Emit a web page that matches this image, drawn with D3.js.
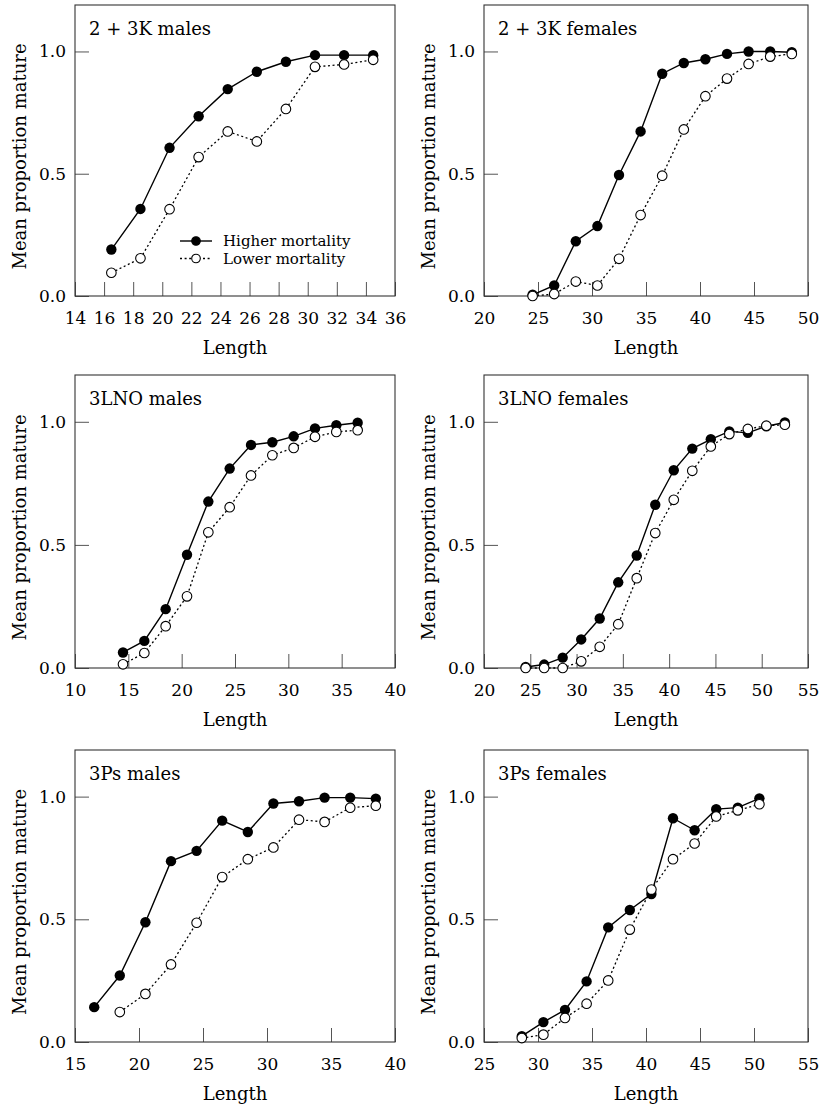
<!DOCTYPE html>
<meta charset="utf-8">
<script src="https://d3js.org/d3.v7.min.js"></script>
<style>
  body { margin: 0; background: #fff; }
  svg { font-family: "DejaVu Serif", serif; }
  .tick text { font-size: 17px; fill: #000; font-family: "DejaVu Serif", serif; }
  .tick line { stroke: #555; }
  .ptitle { font-size: 18px; }
  .atitle { font-size: 18px; }
  .legend { font-size: 15px; }
</style>
<body>
<div id="chart"></div>
<script>

// 2 + 3K males
var k23MalesLen    = [16.5, 18.5, 20.5, 22.5, 24.5, 26.5, 28.5, 30.5, 32.5, 34.5];
var k23MalesHigher = [0.19, 0.356, 0.606, 0.735, 0.846, 0.917, 0.958, 0.985, 0.985, 0.985];
var k23MalesLower  = [0.095, 0.154, 0.355, 0.568, 0.673, 0.632, 0.765, 0.937, 0.947, 0.966];
var k23MalesTicks  = [14, 16, 18, 20, 22, 24, 26, 28, 30, 32, 34, 36];

// 2 + 3K females
var k23FemalesLen    = [24.5, 26.5, 28.5, 30.5, 32.5, 34.5, 36.5, 38.5, 40.5, 42.5, 44.5, 46.5, 48.5];
var k23FemalesHigher = [0.005, 0.043, 0.224, 0.286, 0.495, 0.673, 0.909, 0.953, 0.968, 0.99, 1.0, 1.0, 0.997];
var k23FemalesLower  = [0.0, 0.008, 0.059, 0.043, 0.152, 0.331, 0.492, 0.681, 0.817, 0.889, 0.949, 0.979, 0.99];
var k23FemalesTicks  = [20, 25, 30, 35, 40, 45, 50];

// 3LNO males
var lnoMalesLen    = [14.5, 16.5, 18.5, 20.5, 22.5, 24.5, 26.5, 28.5, 30.5, 32.5, 34.5, 36.5];
var lnoMalesHigher = [0.063, 0.11, 0.239, 0.46, 0.676, 0.81, 0.906, 0.917, 0.941, 0.973, 0.986, 0.996];
var lnoMalesLower  = [0.015, 0.061, 0.17, 0.291, 0.551, 0.653, 0.782, 0.864, 0.894, 0.939, 0.959, 0.966];
var lnoMalesTicks  = [10, 15, 20, 25, 30, 35, 40];

// 3LNO females
var lnoFemalesLen    = [24.5, 26.5, 28.5, 30.5, 32.5, 34.5, 36.5, 38.5, 40.5, 42.5, 44.5, 46.5, 48.5, 50.5, 52.5];
var lnoFemalesHigher = [0.004, 0.014, 0.042, 0.116, 0.201, 0.348, 0.457, 0.663, 0.803, 0.891, 0.929, 0.961, 0.955, 0.982, 0.997];
var lnoFemalesLower  = [0.0, 0.0, 0.0, 0.027, 0.086, 0.178, 0.365, 0.548, 0.683, 0.801, 0.9, 0.95, 0.971, 0.984, 0.988];
var lnoFemalesTicks  = [20, 25, 30, 35, 40, 45, 50, 55];

// 3Ps males
var psMalesLen    = [16.5, 18.5, 20.5, 22.5, 24.5, 26.5, 28.5, 30.5, 32.5, 34.5, 36.5, 38.5];
var psMalesHigher = [0.142, 0.271, 0.488, 0.737, 0.779, 0.902, 0.856, 0.972, 0.981, 0.996, 0.996, 0.992];
var psMalesLower  = [null, 0.122, 0.196, 0.316, 0.486, 0.672, 0.745, 0.793, 0.906, 0.897, 0.955, 0.963];
var psMalesTicks  = [15, 20, 25, 30, 35, 40];

// 3Ps females
var psFemalesLen    = [28.5, 30.5, 32.5, 34.5, 36.5, 38.5, 40.5, 42.5, 44.5, 46.5, 48.5, 50.5];
var psFemalesHigher = [0.024, 0.081, 0.131, 0.247, 0.467, 0.538, 0.603, 0.912, 0.863, 0.949, 0.955, 0.993];
var psFemalesLower  = [0.016, 0.03, 0.098, 0.156, 0.251, 0.458, 0.621, 0.745, 0.809, 0.919, 0.944, 0.969];
var psFemalesTicks  = [25, 30, 35, 40, 45, 50, 55];

var yTicks = [0, 0.5, 1.0];
var seriesNames = ["Higher mortality", "Lower mortality"];

var panels = [
  {title: "2 + 3K males",   len: k23MalesLen,   hi: k23MalesHigher,   lo: k23MalesLower,   ticks: k23MalesTicks,   row: 0, col: 0, legend: true},
  {title: "2 + 3K females", len: k23FemalesLen, hi: k23FemalesHigher, lo: k23FemalesLower, ticks: k23FemalesTicks, row: 0, col: 1},
  {title: "3LNO males",     len: lnoMalesLen,   hi: lnoMalesHigher,   lo: lnoMalesLower,   ticks: lnoMalesTicks,   row: 1, col: 0},
  {title: "3LNO females",   len: lnoFemalesLen, hi: lnoFemalesHigher, lo: lnoFemalesLower, ticks: lnoFemalesTicks, row: 1, col: 1},
  {title: "3Ps males",      len: psMalesLen,    hi: psMalesHigher,    lo: psMalesLower,    ticks: psMalesTicks,    row: 2, col: 0},
  {title: "3Ps females",    len: psFemalesLen,  hi: psFemalesHigher,  lo: psFemalesLower,  ticks: psFemalesTicks,  row: 2, col: 1}
];

var rows = [{top: 5, bottom: 296}, {top: 375, bottom: 668}, {top: 750, bottom: 1042}];
var cols = [{left: 75, right: 395}, {left: 484, right: 808}];

var svg = d3.select("#chart").append("svg")
  .attr("width", 821)
  .attr("height", 1107);

panels.forEach(function(p) {
  var r = rows[p.row], c = cols[p.col];
  var w = c.right - c.left, h = r.bottom - r.top;

  var x = d3.scaleLinear()
    .domain([p.ticks[0], p.ticks[p.ticks.length - 1]])
    .range([0, w]);
  var y = d3.scaleLinear()
    .domain([0, 1.19])
    .range([h, 0]);

  var g = svg.append("g")
    .attr("transform", "translate(" + c.left + "," + r.top + ")");

  g.append("g")
    .attr("transform", "translate(0," + h + ")")
    .call(d3.axisBottom(x).tickValues(p.ticks).tickSize(-14).tickPadding(16).tickFormat(d3.format("d")))
    .call(function(a) { a.select(".domain").remove(); });

  g.append("g")
    .call(d3.axisLeft(y).tickValues(yTicks).tickSize(-14).tickPadding(9).tickFormat(d3.format(".1f")))
    .call(function(a) { a.select(".domain").remove(); });

  g.append("rect")
    .attr("width", w)
    .attr("height", h)
    .attr("fill", "none")
    .attr("stroke", "#333")
    .attr("stroke-width", 1.1);

  g.append("text")
    .attr("class", "ptitle")
    .attr("x", 14)
    .attr("y", 30)
    .text(p.title);

  g.append("text")
    .attr("class", "atitle")
    .attr("x", w / 2)
    .attr("y", h + 58)
    .attr("text-anchor", "middle")
    .text("Length");

  g.append("text")
    .attr("class", "atitle")
    .attr("transform", "translate(-49," + (h / 2 + 6) + ") rotate(-90)")
    .attr("text-anchor", "middle")
    .text("Mean proportion mature");

  var hiPts = p.len.map(function(l, i) { return {x: l, y: p.hi[i]}; });
  var loPts = p.len.map(function(l, i) { return {x: l, y: p.lo[i]}; }).filter(function(d) { return d.y != null; });

  var line = d3.line()
    .x(function(d) { return x(d.x); })
    .y(function(d) { return y(d.y); });

  g.append("path")
    .datum(hiPts)
    .attr("d", line)
    .attr("fill", "none")
    .attr("stroke", "#000")
    .attr("stroke-width", 1.4);

  g.selectAll(".hi")
    .data(hiPts)
    .enter().append("circle")
    .attr("class", "hi")
    .attr("cx", function(d) { return x(d.x); })
    .attr("cy", function(d) { return y(d.y); })
    .attr("r", 5.2)
    .attr("fill", "#000");

  g.append("path")
    .datum(loPts)
    .attr("d", line)
    .attr("fill", "none")
    .attr("stroke", "#000")
    .attr("stroke-width", 1.3)
    .attr("stroke-dasharray", "2,2.6");

  g.selectAll(".lo")
    .data(loPts)
    .enter().append("circle")
    .attr("class", "lo")
    .attr("cx", function(d) { return x(d.x); })
    .attr("cy", function(d) { return y(d.y); })
    .attr("r", 4.8)
    .attr("fill", "#fff")
    .attr("stroke", "#000")
    .attr("stroke-width", 1.1);

  if (p.legend) {
    var lg = g.append("g").attr("transform", "translate(105," + (h - 55) + ")");
    seriesNames.forEach(function(name, i) {
      var row = lg.append("g").attr("transform", "translate(0," + (i * 17.5) + ")");
      row.append("line")
        .attr("x1", 0).attr("x2", 32)
        .attr("stroke", "#000")
        .attr("stroke-width", i === 0 ? 1.4 : 1.3)
        .attr("stroke-dasharray", i === 0 ? null : "2,2.6");
      row.append("circle")
        .attr("cx", 16)
        .attr("r", 4.3)
        .attr("fill", i === 0 ? "#000" : "#fff")
        .attr("stroke", "#000")
        .attr("stroke-width", 1.1);
      row.append("text")
        .attr("class", "legend")
        .attr("x", 43)
        .attr("dy", "0.35em")
        .text(name);
    });
  }
});

</script>
</body>
